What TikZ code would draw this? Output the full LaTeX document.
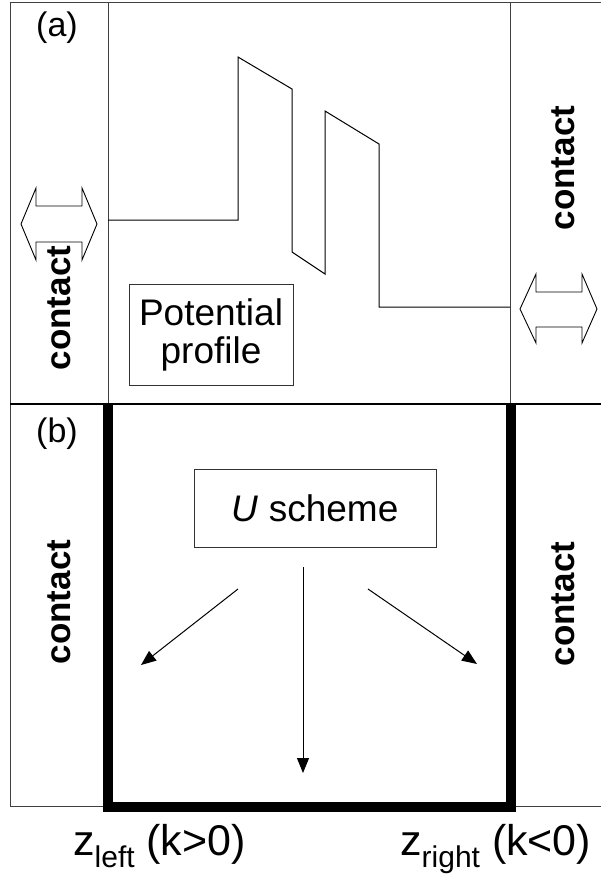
\documentclass[tikz,border=0pt]{standalone}
\usepackage{fontspec}
\setmainfont{Liberation Sans}
\usetikzlibrary{arrows.meta}
\begin{document}
\begin{tikzpicture}[x=1pt,y=-1pt,
  frameline/.style={line width=1pt, draw=black!75},
  profileline/.style={line width=1pt, draw=black},
  thickU/.style={line width=10pt, line join=miter, draw=black},
  panellbl/.style={font=\fontsize{34}{38}\selectfont, inner sep=0pt},
  contactlbl/.style={font=\fontsize{35}{38}\selectfont\bfseries, rotate=90, inner sep=0pt},
  textbox/.style={draw=black!80, line width=1pt, font=\fontsize{37}{38}\selectfont, align=center, inner sep=0pt},
  zlbl/.style={font=\fontsize{43}{46}\selectfont, inner sep=0pt, anchor=base west},
  ptr/.style={-{Triangle[length=15pt,width=12pt]}, line width=1pt},
  dblarrow/.style={draw=black, fill=white, line width=0.9pt, line join=miter}
]
\useasboundingbox (0,0) rectangle (601,876);
% frame
\draw[frameline] (10,2) -- (601,2);
\draw[frameline] (10,2) -- (10,806);
\draw[frameline] (108,2) -- (108,404);
\draw[frameline] (510,2) -- (510,404);
\draw[frameline] (10,806) -- (108,806);
\draw[frameline] (510,806) -- (601,806);
\draw[line width=1.6pt] (10,404) -- (601,404);
% thick U
\draw[thickU] (108,405) -- (108,807) -- (510.5,807) -- (510.5,405);
% potential profile
\draw[profileline] (108,220) -- (238,220) -- (238,57) -- (292,89) -- (292,252) -- (325,274) -- (325,111) -- (379,144) -- (379,307) -- (510,307);
% labels
\node[panellbl] (la) at (57,28) {(a)};
\node[panellbl] (lb) at (57,434) {(b)};
\node[contactlbl] (c1) at (59,308) {contact};
\node[contactlbl] (c2) at (563,168) {contact};
\node[contactlbl] (c3) at (59,602) {contact};
\node[contactlbl] (c4) at (563,604) {contact};
% double arrows
\draw[dblarrow] (21,224) -- (36,188) -- (36,206) -- (82,206) -- (82,188) -- (97,224) -- (82,260) -- (82,242) -- (36,242) -- (36,260) -- cycle;
\draw[dblarrow] (520,309) -- (536,274) -- (536,292) -- (582,292) -- (582,274) -- (597,309) -- (582,343) -- (582,327) -- (536,327) -- (536,343) -- cycle;
% boxes
\node[textbox, minimum width=164pt, minimum height=101pt] (pp) at (211,334.5) {Potential\\profile};
\node[textbox, minimum width=242pt, minimum height=78pt] (us) at (315,508) {\textit{U} scheme};
% arrows
\coordinate (a1s) at (238,589);
\coordinate (a1e) at (141,665);
\coordinate (a2s) at (303,567);
\coordinate (a2e) at (303,773);
\coordinate (a3s) at (368,589);
\coordinate (a3e) at (477,664);
\draw[ptr] (a1s) -- (a1e);
\draw[ptr] (a2s) -- (a2e);
\draw[ptr] (a3s) -- (a3e);
% bottom labels
\node[zlbl] (zl) at (73,855) {z\raisebox{-12pt}{\fontsize{30}{31}\selectfont left} (k>0)};
\node[zlbl] (zr) at (400,855) {z\raisebox{-12pt}{\fontsize{30}{31}\selectfont right} (k<0)};
\end{tikzpicture}
\end{document}
